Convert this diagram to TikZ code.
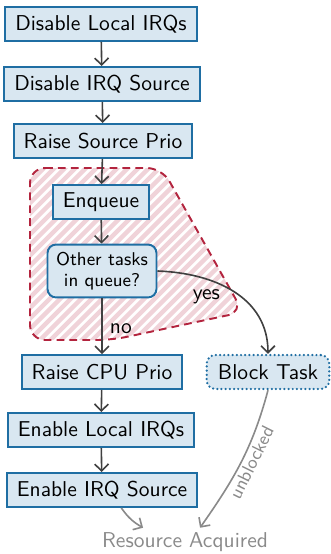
\documentclass[tikz,border=0pt]{standalone}
\usetikzlibrary{arrows.meta}
\renewcommand{\familydefault}{\sfdefault}
\definecolor{boxblue}{HTML}{1F6EA3}
\definecolor{boxfill}{HTML}{D9E7F1}
\definecolor{zonered}{HTML}{B3243E}
\definecolor{hatchred}{HTML}{F0D3D9}
\definecolor{flow}{HTML}{404040}
\definecolor{soft}{HTML}{8A8A8A}
\tikzset{
  stepbox/.style={draw=boxblue, fill=boxfill, line width=0.9pt, inner xsep=4.6pt,
    minimum height=15.8pt, font=\sffamily},
  decision/.style={stepbox, rounded corners=4pt, align=center,
    minimum width=50.7pt, minimum height=24.6pt, inner sep=2pt,
    font=\sffamily\fontsize{8.6}{9.6}\selectfont},
  waitbox/.style={stepbox, draw=boxblue, rounded corners=4pt, line width=1.15pt,
    dash pattern=on 0pt off 1.95pt, line cap=round, minimum width=57pt},
  flowarrow/.style={draw=flow, line width=0.75pt, -{Straight Barb[length=3.2pt,width=6.4pt]}},
  softarrow/.style={draw=soft, line width=0.75pt, -{Straight Barb[length=3.2pt,width=6.4pt]}},
  zoneline/.style={draw=zonered, line width=0.9pt, dash pattern=on 3.6pt off 2.4pt},
  hatch/.style={draw=hatchred, line width=2pt},
}
\newcommand{\zonepath}{[rounded corners=7pt] (30,168) -- (162,168) -- (243,312) -- (112,340) -- (30,340) -- cycle}
\begin{document}
\begin{tikzpicture}[x=0.465pt, y=-0.465pt]
  \useasboundingbox (0,0) rectangle (331,554);

  % critical region around the queue handling: hatched fill, dashed outline
  \begin{scope}
    \clip \zonepath;
    \foreach \k in {0,...,42} {
      \draw[hatch] (-180+10.5*\k,350) -- ++(200,-200);
    }
  \end{scope}
  \draw[zoneline] \zonepath;

  % main sequence
  \node[stepbox] (n1) at (101,24) {Disable Local IRQs};
  \node[stepbox] (n2) at (102,84) {Disable IRQ Source};
  \node[stepbox] (n3) at (103,141) {Raise Source Prio};
  \node[stepbox] (enq) at (101,202) {Enqueue};
  \node[decision] (dec) at (102,271) {Other tasks\\in queue?};
  \node[stepbox] (cpu) at (102,372) {Raise CPU Prio};
  \node[stepbox] (loc) at (101,430) {Enable Local IRQs};
  \node[stepbox] (src) at (102,490) {Enable IRQ Source};
  \node[waitbox] (blk) at (268,372) {Block Task};
  \node[text=soft, font=\sffamily, inner sep=2pt] (res) at (185,542) {Resource Acquired};

  % connectors
  \draw[flowarrow] (n1) -- (n2);
  \draw[flowarrow] (n2) -- (n3);
  \draw[flowarrow] (n3) -- (enq);
  \draw[flowarrow] (enq) -- (dec);
  \draw[flowarrow] (dec) -- node[pos=0.55, right, font=\sffamily] {no} (cpu);
  \draw[flowarrow] (dec.east) to[out=-2, in=90, looseness=1.05]
    node[pos=0.3, below=1pt, font=\sffamily] {yes} (blk.north);
  \draw[flowarrow] (cpu) -- (loc);
  \draw[flowarrow] (loc) -- (src);
  \draw[softarrow] ([xshift=9pt]src.south) to[out=-55, in=150] ([xshift=-19.5pt]res.north);
  \draw[softarrow] (blk.south) to[out=-105, in=55]
    node[pos=0.47, sloped, below, inner sep=1pt, text=soft, font=\sffamily\fontsize{8.5}{10}\selectfont] {unblocked}
    ([xshift=7pt]res.north);
\end{tikzpicture}
\end{document}
